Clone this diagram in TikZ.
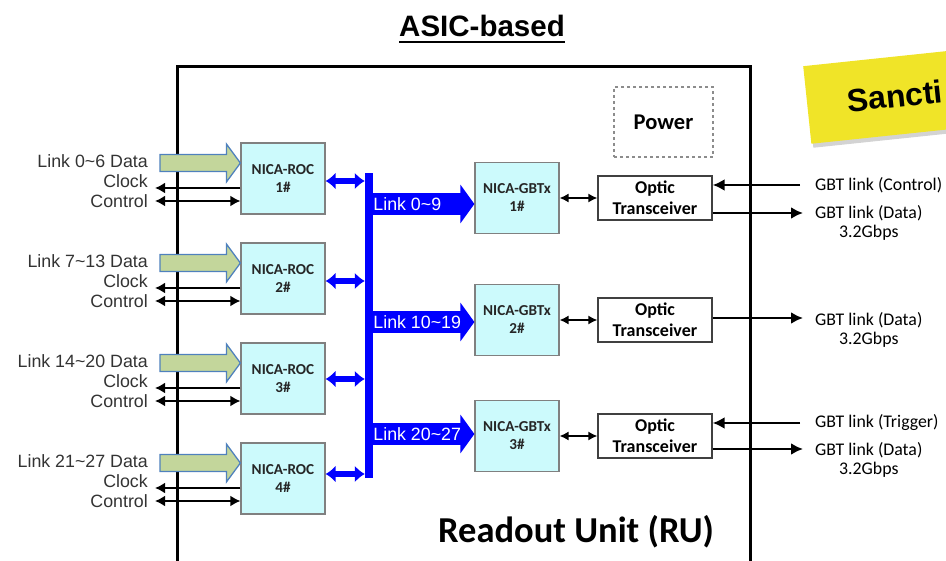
\documentclass[tikz,border=0pt]{standalone}
\usepackage{fontspec}
\setmainfont{Carlito}
\newfontfamily\arialfont{Liberation Sans}
\usetikzlibrary{arrows.meta,calc,shadows}
\definecolor{rocfill}{RGB}{204,250,252}
\definecolor{boxgray}{RGB}{128,128,128}
\definecolor{datafill}{RGB}{195,214,155}
\definecolor{dataline}{RGB}{79,129,189}
\definecolor{busblue}{RGB}{0,0,255}
\definecolor{noteyellow}{RGB}{240,228,40}
\definecolor{labelgray}{RGB}{51,51,51}
\tikzset{
  chipbox/.style={draw=boxgray, fill=rocfill, line width=1.2pt, minimum width=84pt,
    minimum height=71pt, align=center, text=black!85,
    font=\fontsize{15.2}{18}\selectfont\bfseries},
  opticbox/.style={draw=black!75, fill=white, line width=1.3pt, minimum width=114pt,
    minimum height=44pt, align=center, font=\fontsize{18}{21}\selectfont\bfseries},
  powerbox/.style={draw=black!45, dashed, line width=1.1pt, minimum width=99pt,
    minimum height=70pt, font=\fontsize{22.5}{24}\selectfont\bfseries},
  sidelabel/.style={anchor=east, inner sep=0pt, text=labelgray,
    font=\arialfont\fontsize{17.8}{20}\selectfont},
  gbtlabel/.style={inner sep=0pt, font=\fontsize{17.8}{20}\selectfont},
  linktext/.style={anchor=west, inner sep=0pt, text=white,
    font=\arialfont\fontsize{17.8}{20}\selectfont},
  datalink/.style={draw=dataline, fill=datafill, line width=1.3pt, line join=miter},
  wire/.style={line width=2pt, -{Latex[length=10pt,width=11pt]}},
  wirebi/.style={line width=2pt, {Latex[length=10pt,width=11pt]}-{Latex[length=10pt,width=11pt]}},
  gbtwire/.style={line width=2.4pt, -{Latex[length=12pt,width=12pt]}},
  smallbi/.style={line width=1.4pt, {Latex[length=9pt,width=9pt]}-{Latex[length=9pt,width=9pt]}},
  busarrow/.style={busblue, line width=6pt, {Latex[length=10pt,width=17pt]}-{Latex[length=10pt,width=17pt]}},
  linkarrow/.style={busblue, line width=22pt, -{Triangle[length=14pt,width=38pt]}},
  notebox/.style={fill=noteyellow, inner xsep=40pt, text width=150pt, align=left,
    minimum height=78pt, drop shadow={shadow xshift=2pt, shadow yshift=-4pt, opacity=.35},
    font=\arialfont\bfseries\fontsize{32}{34}\selectfont},
}
\begin{document}
\begin{tikzpicture}[x=1pt,y=-1pt]
  \useasboundingbox (0,0) rectangle (946,561);
  \clip (0,0) rectangle (946,561);
  % title and sticky note
  \node[inner sep=0pt, font=\arialfont\bfseries\fontsize{29.5}{31}\selectfont] (title) at (482,26) {ASIC-based};
  \draw[line width=2pt] ($(title.base west)+(0,5)$) -- ($(title.base east)+(0,5)$);
  \node[notebox, rotate=6, anchor=north west] (note) at (803,66) {Sancti};
  % readout unit frame
  \draw[line width=3pt] (177,575) -- (177,67) -- (750,67) -- (750,575);
  \node[font=\fontsize{36.5}{40}\selectfont\bfseries] (ru) at (576,532) {Readout Unit (RU)};
  \node[powerbox] (power) at (663.5,122) {Power};
  % blue bus
  \node[fill=busblue, minimum width=8pt, minimum height=305pt, inner sep=0pt] (bus) at (369,325.5) {};
  % readout chips
  \foreach \i/\t/\lbl/\b in {1/143/0\textasciitilde6/181, 2/243/7\textasciitilde13/281,
      3/343/14\textasciitilde20/379, 4/443/21\textasciitilde27/474} {
    \node[chipbox] (roc\i) at (283,\t+35.5) {NICA-ROC\\\i\#};
    \coordinate (din\i) at (160,\t+20);
    \draw[datalink] ($(din\i)+(0,-8.5)$) -- ($(roc\i.west |- din\i)+(-14,-8.5)$)
      -- ($(roc\i.west |- din\i)+(-14,-19)$) -- (roc\i.west |- din\i)
      -- ($(roc\i.west |- din\i)+(-14,19)$) -- ($(roc\i.west |- din\i)+(-14,8.5)$)
      -- ($(din\i)+(0,8.5)$) -- cycle;
    \node[sidelabel] (ldat\i) at (148,\t+18) {Link \lbl{} Data};
    \node[sidelabel] (lclk\i) at (148,\t+38) {Clock};
    \node[sidelabel] (lctl\i) at (148,\t+58) {Control};
    \coordinate (clk\i) at (155,\t+45);
    \coordinate (ctl\i) at (155,\t+58);
    \draw[wire] (roc\i.west |- clk\i) -- (clk\i);
    \draw[wirebi] (ctl\i) -- (roc\i.west |- ctl\i);
    \coordinate (bj\i) at (369,\b);
    \draw[busarrow] (roc\i.east |- bj\i) -- (bus.west |- bj\i);
  }
  % GBTx chips and optics
  \foreach \j/\c/\k/\lnk in {1/198/204/0\textasciitilde9, 2/320/322/10\textasciitilde19,
      3/436/434/20\textasciitilde27} {
    \node[chipbox] (gbtx\j) at (517,\c) {NICA-GBTx\\\j\#};
    \node[opticbox] (opt\j) at (655,\c) {Optic\\Transceiver};
    \draw[smallbi] (gbtx\j) -- (opt\j);
    \coordinate (lk\j) at (369,\k);
    \draw[linkarrow] (bus.center |- lk\j) -- (gbtx\j.west |- lk\j);
    \node[linktext] (llk\j) at (bus.east |- lk\j) {Link \lnk};
  }
  % GBT links
  \coordinate (gin1) at (800,185);
  \coordinate (gout1) at (803,213);
  \coordinate (gout2) at (803,318);
  \coordinate (gin3) at (800,423);
  \coordinate (gout3) at (803,449);
  \draw[gbtwire] (gin1) -- (opt1.east |- gin1);
  \draw[gbtwire] (opt1.east |- gout1) -- (gout1);
  \draw[gbtwire] (opt2.east |- gout2) -- (gout2);
  \draw[gbtwire] (gin3) -- (opt3.east |- gin3);
  \draw[gbtwire] (opt3.east |- gout3) -- (gout3);
  \node[gbtlabel, anchor=west] (gctl) at (815,185) {GBT link (Control)};
  \node[gbtlabel, anchor=west] (gdat1) at (815,213) {GBT link (Data)};
  \node[gbtlabel] (grate1) at ($(gdat1.center)+(0,20)$) {3.2Gbps};
  \node[gbtlabel, anchor=west] (gdat2) at (815,320) {GBT link (Data)};
  \node[gbtlabel] (grate2) at ($(gdat2.center)+(0,20)$) {3.2Gbps};
  \node[gbtlabel, anchor=west] (gtrg) at (815,423) {GBT link (Trigger)};
  \node[gbtlabel, anchor=west] (gdat3) at (815,450) {GBT link (Data)};
  \node[gbtlabel] (grate3) at ($(gdat3.center)+(0,20)$) {3.2Gbps};
\end{tikzpicture}
\end{document}
